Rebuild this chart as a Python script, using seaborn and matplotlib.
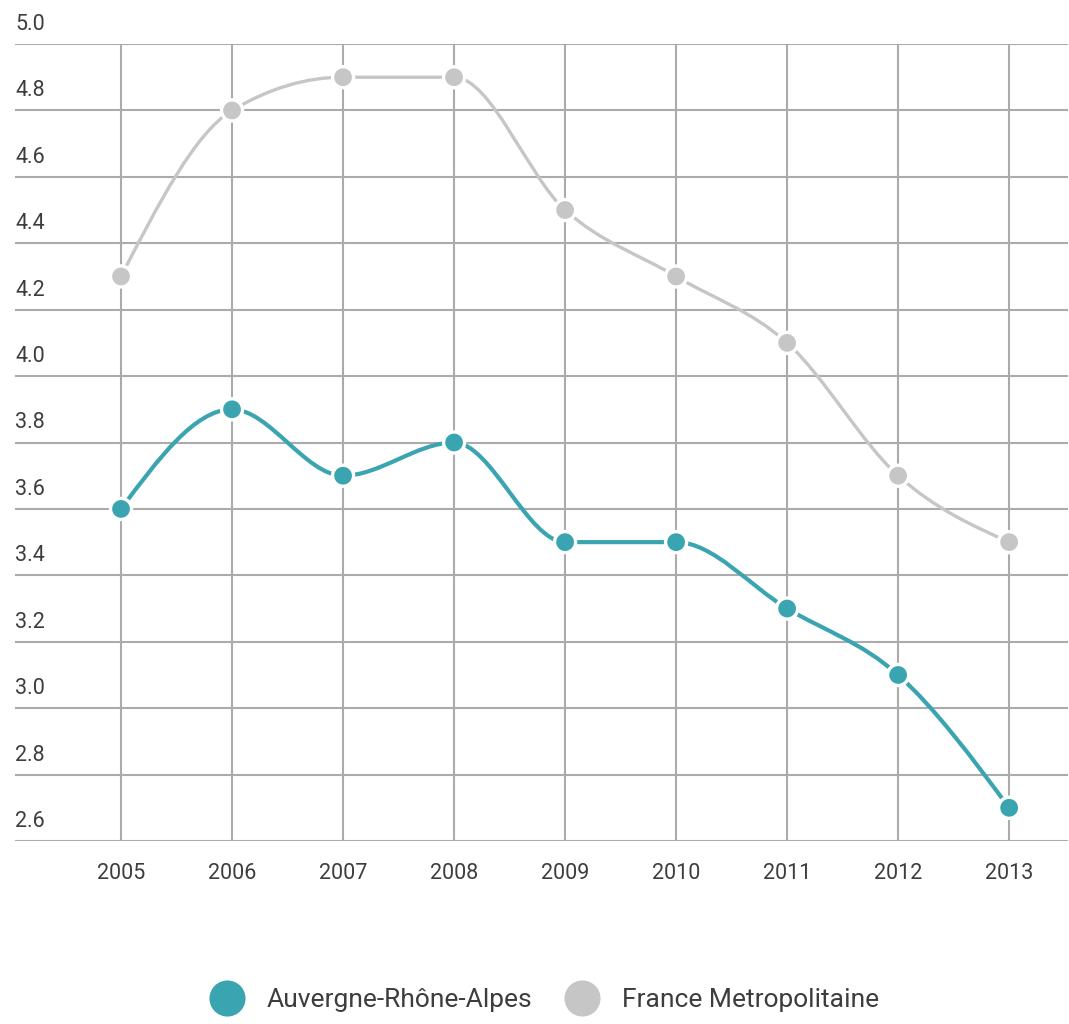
import matplotlib.pyplot as plt
import seaborn as sns
import pandas as pd
import numpy as np
from matplotlib.path import Path
from matplotlib.patches import PathPatch
from matplotlib.lines import Line2D

years = ['2005', '2006', '2007', '2008', '2009', '2010', '2011', '2012', '2013']
auvergne = [3.6, 3.9, 3.7, 3.8, 3.5, 3.5, 3.3, 3.1, 2.7]
france = [4.3, 4.8, 4.9, 4.9, 4.5, 4.3, 4.1, 3.7, 3.5]
series_names = ['Auvergne-Rhône-Alpes', 'France Metropolitaine']
yticks = [2.6, 2.8, 3.0, 3.2, 3.4, 3.6, 3.8, 4.0, 4.2, 4.4, 4.6, 4.8, 5.0]

teal = '#3aa5b1'
grey = '#c6c6c6'
txt = '#3d3d3d'

sns.set_style('white')
plt.rcParams['font.family'] = ['Liberation Sans Narrow', 'Roboto', 'DejaVu Sans']

df = pd.DataFrame({'year': list(range(len(years))) * 2,
                   'value': auvergne + france,
                   'serie': [series_names[0]] * len(years) + [series_names[1]] * len(years)})


def monotone_path(ys):
    # bezier path like d3 curveMonotoneX (control points only, matplotlib draws the curve)
    y = np.asarray(ys, dtype=float)
    n = len(y)
    s = np.diff(y)
    t = np.zeros(n)
    for i in range(1, n - 1):
        s0, s1 = s[i - 1], s[i]
        p = (s0 + s1) / 2
        t[i] = (np.sign(s0) + np.sign(s1)) * min(abs(s0), abs(s1), 0.5 * abs(p))
    t[0] = (3 * s[0] - t[1]) / 2
    t[-1] = (3 * s[-1] - t[-2]) / 2
    verts = [(0, y[0])]
    codes = [Path.MOVETO]
    for i in range(n - 1):
        verts += [(i + 1 / 3, y[i] + t[i] / 3), (i + 2 / 3, y[i + 1] - t[i + 1] / 3), (i + 1, y[i + 1])]
        codes += [Path.CURVE4] * 3
    return Path(verts, codes)


fig = plt.figure(figsize=(10.69, 10.24), dpi=100)
ax = fig.add_axes([15 / 1069, 1 - 841 / 1024, 1053 / 1069, 797 / 1024])

ax.add_patch(PathPatch(monotone_path(france), fill=False, edgecolor=grey, lw=2.4, zorder=3))
ax.add_patch(PathPatch(monotone_path(auvergne), fill=False, edgecolor=teal, lw=3.0, zorder=3))

sns.scatterplot(data=df, x='year', y='value', hue='serie', palette=[teal, grey],
                s=230, edgecolor='white', linewidth=2.4, legend=False, ax=ax, zorder=4)

ax.set_xlim(-0.955, 8.53)
ax.set_ylim(2.6, 5.0)
ax.set_xticks(range(len(years)))
ax.set_xticklabels(years)
ax.set_yticks(yticks)
ax.set_yticklabels([])
ax.grid(True, color='#ababab', lw=1.5)
ax.set_axisbelow(True)
for sp in ax.spines.values():
    sp.set_visible(False)
ax.tick_params(axis='x', length=0, pad=16, labelsize=15.5, labelcolor=txt)
ax.tick_params(axis='y', length=0)
ax.set_xlabel('')
ax.set_ylabel('')

# y labels sit above the grid lines, left aligned
for v in yticks:
    ax.annotate(f'{v:.1f}', xy=(0, v), xycoords=('axes fraction', 'data'),
                xytext=(0, 9), textcoords='offset pixels', ha='left', va='bottom',
                fontsize=15.5, color=txt)

handles = [Line2D([], [], ls='none', marker='o', markersize=27, color=c, markeredgecolor='white')
           for c in [teal, grey]]
fig.legend(handles, series_names, loc='center', bbox_to_anchor=(0.505, 1 - 1000 / 1024), ncol=2,
           frameon=False, fontsize=19, labelcolor=txt, handletextpad=0.5, columnspacing=0.9)

fig.savefig('out.png', dpi=100)
